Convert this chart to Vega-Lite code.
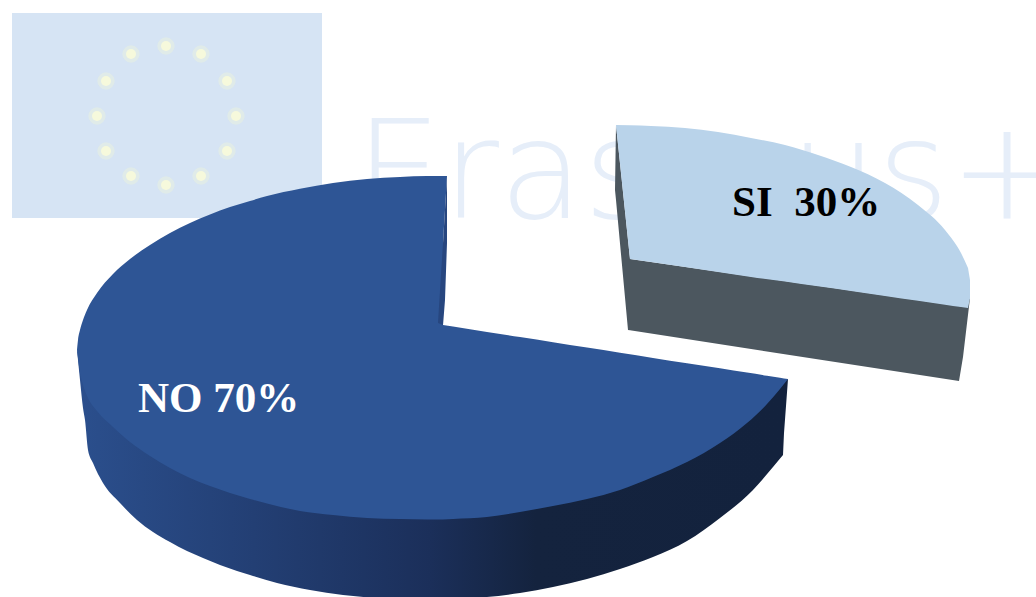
{"$schema":"https://vega.github.io/schema/vega-lite/v6.json","width":1036,"height":597,"autosize":{"type":"none"},"padding":0,"background":"white","config":{"view":{"stroke":null}},
"datasets":{
"flag":[{"x":12,"x2":322,"y":13,"y2":218}],
"stars":[{"x":166,"y":46},{"x":201,"y":54},{"x":227,"y":81},{"x":236,"y":116},{"x":227,"y":151},{"x":201,"y":176},{"x":166,"y":185},{"x":131,"y":176},{"x":106,"y":151},{"x":97,"y":116},{"x":106,"y":81},{"x":131,"y":54}],
"brand":[{"x":355,"y":218,"label":"Erasmus+"}],
"si_side":[{"x":615,"y":190,"y2":190},{"x":616,"y":125,"y2":200},{"x":628,"y":240,"y2":330},{"x":630,"y":259,"y2":330.3},{"x":959,"y":306,"y2":381},{"x":963,"y":307,"y2":357},{"x":970,"y":298,"y2":298}],
"si_face_left":[{"x":616,"y":125,"y2":125},{"x":630,"y":125.3,"y2":259}],
"si_face":[{"x":630,"y":125.3,"y2":259},{"x":651,"y":126,"y2":262},{"x":685,"y":128,"y2":267},{"x":718,"y":132,"y2":272},{"x":751,"y":138,"y2":277},{"x":785,"y":145,"y2":281.5},{"x":818,"y":155,"y2":286.3},{"x":851,"y":167,"y2":291},{"x":885,"y":183,"y2":296},{"x":918,"y":205,"y2":300.8},{"x":945,"y":230,"y2":304.7},{"x":961,"y":253,"y2":307},{"x":968,"y":268,"y2":308}],
"si_face_right":[{"x":968,"y":268,"y2":308},{"x":970,"y":280,"y2":298}],
"no_side":[{"x":77,"y":350,"y2":350},{"x":78,"y":352,"y2":360},{"x":80,"y":355,"y2":380},{"x":83,"y":380,"y2":408},{"x":85,"y":380,"y2":420},{"x":88,"y":380,"y2":450},{"x":93,"y":380,"y2":463},{"x":103,"y":380,"y2":483},{"x":120,"y":380,"y2":503},{"x":137,"y":380,"y2":520},{"x":153,"y":380,"y2":532},{"x":170,"y":380,"y2":542},{"x":187,"y":380,"y2":551},{"x":203,"y":380,"y2":558},{"x":220,"y":380,"y2":565},{"x":237,"y":380,"y2":571},{"x":250,"y":380,"y2":575},{"x":277,"y":380,"y2":583},{"x":310,"y":380,"y2":590},{"x":343,"y":380,"y2":595},{"x":377,"y":380,"y2":598},{"x":430,"y":380,"y2":600},{"x":487,"y":380,"y2":597},{"x":520,"y":380,"y2":593},{"x":553,"y":380,"y2":587},{"x":587,"y":380,"y2":579},{"x":620,"y":380,"y2":569},{"x":653,"y":380,"y2":557},{"x":687,"y":380,"y2":541},{"x":720,"y":380,"y2":518},{"x":753,"y":380,"y2":490},{"x":773,"y":380,"y2":467},{"x":783,"y":380,"y2":455}],
"no_side_right":[{"x":783,"y":380,"y2":455},{"x":784,"y":380,"y2":433},{"x":788,"y":379,"y2":379}],
"no_face_left":[{"x":77,"y":350,"y2":350},{"x":78,"y":340,"y2":358},{"x":80,"y":330,"y2":373},{"x":83,"y":320,"y2":385},{"x":87,"y":310,"y2":396},{"x":97,"y":293,"y2":411},{"x":113,"y":274,"y2":427},{"x":130,"y":259,"y2":442},{"x":150,"y":245,"y2":456},{"x":170,"y":233,"y2":468},{"x":190,"y":223,"y2":478},{"x":210,"y":214.5,"y2":486},{"x":230,"y":207,"y2":493},{"x":250,"y":201,"y2":499},{"x":267,"y":196,"y2":503.5},{"x":300,"y":188.7,"y2":511},{"x":333,"y":183,"y2":515},{"x":367,"y":179,"y2":518},{"x":400,"y":177,"y2":519},{"x":427,"y":176,"y2":519.5},{"x":443,"y":176,"y2":519.5}],
"no_face_right":[{"x":443,"y":325,"y2":519.5},{"x":453,"y":326.6,"y2":519},{"x":487,"y":331.9,"y2":517},{"x":520,"y":337,"y2":512},{"x":553,"y":342.2,"y2":506},{"x":587,"y":347.5,"y2":499},{"x":620,"y":352.7,"y2":490},{"x":653,"y":357.9,"y2":477},{"x":687,"y":363.2,"y2":462},{"x":720,"y":368.3,"y2":443},{"x":747,"y":372.6,"y2":423},{"x":767,"y":375.7,"y2":404},{"x":780,"y":377.7,"y2":389},{"x":788,"y":379,"y2":379}],
"no_wedge":[{"y":176,"x":443,"x2":447},{"y":243,"x":443,"x2":443}],
"no_sliver":[{"y":176,"x":447,"x2":447},{"y":243,"x":443,"x2":447},{"y":300,"x":439.4,"x2":445},{"y":323,"x":438,"x2":443.2},{"y":325,"x":443,"x2":443}],
"labels":[{"x":138,"y":412,"label":"NO 70%","category":"NO","value":70},{"x":732,"y":216,"label":"SI\u00a0\u00a030%","category":"SI","value":30}]
},
"encoding":{
"x":{"field":"x","type":"quantitative","scale":{"domain":[0,1036],"nice":false,"zero":false},"axis":null},
"y":{"field":"y","type":"quantitative","scale":{"domain":[597,0],"nice":false,"zero":false},"axis":null}
},
"layer":[
{"data":{"name":"flag"},"mark":{"type":"rect","fill":"#d6e4f4"},"encoding":{"x2":{"field":"x2"},"y2":{"field":"y2"}}},
{"data":{"name":"stars"},"mark":{"type":"point","filled":true,"shape":"circle","fill":"#eef4dc","opacity":0.45,"size":300,"stroke":null}},
{"data":{"name":"stars"},"mark":{"type":"point","filled":true,"shape":"circle","fill":"#f6f9dc","opacity":1,"size":100,"stroke":null}},
{"data":{"name":"brand"},"mark":{"type":"text","font":"DejaVu Sans","fontWeight":200,"fontSize":138,"align":"left","baseline":"alphabetic","fill":"#e6eef9"},"encoding":{"text":{"field":"label"}}},
{"data":{"name":"si_side"},"mark":{"type":"area","fill":"#4c575f","clip":true},"encoding":{"y2":{"field":"y2"}}},
{"data":{"name":"si_face_left"},"mark":{"type":"area","fill":"#b9d3ea","clip":true},"encoding":{"y2":{"field":"y2"}}},
{"data":{"name":"si_face"},"mark":{"type":"area","fill":"#b9d3ea","clip":true,"interpolate":"monotone"},"encoding":{"y2":{"field":"y2"}}},
{"data":{"name":"si_face_right"},"mark":{"type":"area","fill":"#b9d3ea","clip":true},"encoding":{"y2":{"field":"y2"}}},
{"data":{"name":"no_side_right"},"mark":{"type":"area","fill":"#13223d","clip":true},"encoding":{"y2":{"field":"y2"}}},
{"data":{"name":"no_side"},"mark":{"type":"area","clip":true,"interpolate":"monotone","fill":{"gradient":"linear","x1":0,"y1":0,"x2":1,"y2":0,"stops":[{"offset":0,"color":"#2b4f8d"},{"offset":0.25,"color":"#233f74"},{"offset":0.5,"color":"#1b2f5a"},{"offset":0.65,"color":"#14233e"},{"offset":1,"color":"#13223d"}]}},"encoding":{"y2":{"field":"y2"}}},
{"data":{"name":"no_face_left"},"mark":{"type":"area","fill":"#2e5595","clip":true,"interpolate":"monotone"},"encoding":{"y2":{"field":"y2"}}},
{"data":{"name":"no_face_right"},"mark":{"type":"area","fill":"#2e5595","clip":true,"interpolate":"monotone"},"encoding":{"y2":{"field":"y2"}}},
{"data":{"name":"no_wedge"},"mark":{"type":"area","orient":"horizontal","fill":"#2e5595"},"encoding":{"x2":{"field":"x2"}}},
{"data":{"name":"no_sliver"},"mark":{"type":"area","orient":"horizontal","fill":"#27467f"},"encoding":{"x2":{"field":"x2"}}},
{"data":{"name":"labels"},"mark":{"type":"text","font":"Liberation Serif","fontWeight":"bold","fontSize":43,"align":"left","baseline":"alphabetic"},"encoding":{"text":{"field":"label"},"color":{"condition":{"test":"datum.category === 'NO'","value":"#ffffff"},"value":"#000000"}}}
]}
